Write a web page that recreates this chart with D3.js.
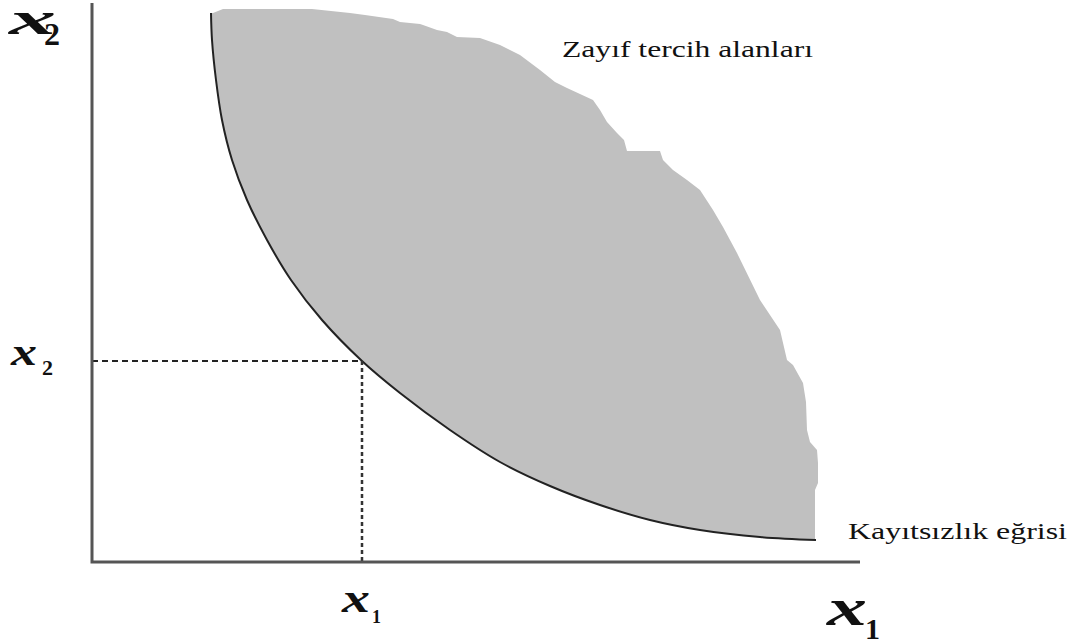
<!DOCTYPE html>
<html>
<head>
<meta charset="utf-8">
<script src="https://cdn.jsdelivr.net/npm/d3@7"></script>
<style>
  body { margin:0; background:#fff; }
  svg { display:block; }
</style>
</head>
<body>
<svg id="chart" width="1085" height="642"></svg>
<script>
// indifference curve (units: px from origin, x right / y up)
var curveX = [119, 120, 124, 130, 140, 155, 175, 199, 230, 270, 308, 358, 408, 458, 508, 558, 608, 668, 724];
var curveY = [549, 522, 482, 442, 402, 362, 322, 282, 242, 201, 169, 132, 100, 76, 57, 42, 32, 25, 22];

// ragged upper edge of the shaded area, from bottom right back to the top of the curve
var edgeX = [723, 723, 726, 726, 725, 718, 715, 714, 711, 701, 695, 688, 668, 645, 631, 621, 608, 595, 581, 571,
             568, 535, 532, 525, 515, 508, 501, 475, 463, 448, 428, 408, 388, 365, 355, 345, 331, 328, 308, 301,
             273, 258, 220, 215, 198, 165, 131, 121, 119];
var edgeY = [22, 72, 79, 99, 112, 120, 132, 160, 179, 197, 202, 232, 262, 309, 335, 352, 372, 382, 392, 402,
             411, 411, 422, 429, 440, 452, 462, 474, 480, 492, 507, 517, 524, 525, 530, 532, 537, 538, 540, 543,
             547, 549, 553, 553, 553, 553, 553, 549, 549];

// the chosen bundle
var bundleX = [270];
var bundleY = [201];

var axisLabels = ["x", "x"];
var axisSubs = ["2", "1"];
var pointLabels = ["x", "x"];
var pointSubs = ["2", "1"];
var notes = ["Zayıf tercih alanları", "Kayıtsızlık eğrisi"];

var svg = d3.select("#chart");

var x = d3.scaleLinear().domain([0, 1000]).range([92, 1092]);
var y = d3.scaleLinear().domain([0, 560]).range([562, 2]);

var curve = curveX.map(function(d, i){ return [d, curveY[i]]; });
var edge = edgeX.map(function(d, i){ return [d, edgeY[i]]; });

var smooth = d3.line()
  .x(function(d){ return x(d[0]); })
  .y(function(d){ return y(d[1]); })
  .curve(d3.curveCatmullRom.alpha(0.5));
var straight = d3.line()
  .x(function(d){ return x(d[0]); })
  .y(function(d){ return y(d[1]); });

// shaded region: smooth lower side, ragged upper side
svg.append("path")
  .attr("d", smooth(curve) + straight(edge).replace("M", "L") + "Z")
  .attr("fill", "#c0c0c0")
  .attr("stroke", "none");

// curve itself
svg.append("path")
  .attr("d", smooth(curve))
  .attr("fill", "none")
  .attr("stroke", "#222")
  .attr("stroke-width", 2);

// dashed guides
svg.append("line")
  .attr("x1", x(0)).attr("y1", y(bundleY[0]))
  .attr("x2", x(bundleX[0])).attr("y2", y(bundleY[0]))
  .attr("stroke", "#222").attr("stroke-width", 2)
  .attr("stroke-dasharray", "6,4");
svg.append("line")
  .attr("x1", x(bundleX[0])).attr("y1", y(bundleY[0]))
  .attr("x2", x(bundleX[0])).attr("y2", y(0))
  .attr("stroke", "#333").attr("stroke-width", 2.5)
  .attr("stroke-dasharray", "4,3");

// axes
svg.append("path")
  .attr("d", "M" + x(0) + "," + y(559) + "V" + y(0) + "H" + x(768))
  .attr("fill", "none")
  .attr("stroke", "#555")
  .attr("stroke-width", 3);

// math labels
var mathFont = "'Liberation Serif', 'DejaVu Serif', serif";
function mathLabel(txt, sub, px, py, size, w, subSize, sx, sy){
  var g = svg.append("g");
  g.append("text")
    .attr("x", px).attr("y", py)
    .attr("font-family", mathFont)
    .attr("font-weight", "bold").attr("font-style", "italic")
    .attr("font-size", size)
    .attr("textLength", w).attr("lengthAdjust", "spacingAndGlyphs")
    .attr("fill", "#111")
    .text(txt);
  g.append("text")
    .attr("x", px + sx).attr("y", py + sy)
    .attr("font-family", mathFont)
    .attr("font-weight", "bold")
    .attr("font-size", subSize)
    .attr("fill", "#111")
    .text(sub);
}
mathLabel(axisLabels[0], axisSubs[0], 9, 34, 46, 47, 32, 35, 11);
mathLabel(axisLabels[1], axisSubs[1], 827, 625, 52, 40, 30, 38, 14);
mathLabel(pointLabels[0], pointSubs[0], 11, 365, 38, 26, 22, 31, 10);
mathLabel(pointLabels[1], pointSubs[1], 342, 612, 40, 28, 18, 30, 11);

// notes
svg.append("text")
  .attr("x", 562).attr("y", 57)
  .attr("font-family", mathFont)
  .attr("font-size", 23)
  .attr("textLength", 251).attr("lengthAdjust", "spacingAndGlyphs")
  .attr("fill", "#111")
  .text(notes[0]);
svg.append("text")
  .attr("x", 848).attr("y", 539)
  .attr("font-family", mathFont)
  .attr("font-size", 23)
  .attr("textLength", 219).attr("lengthAdjust", "spacingAndGlyphs")
  .attr("fill", "#111")
  .text(notes[1]);
</script>
</body>
</html>
